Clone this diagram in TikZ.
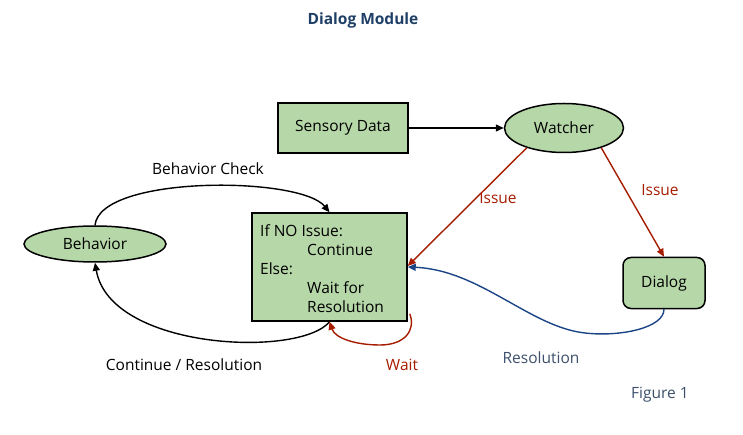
\documentclass[tikz,border=0pt]{standalone}
\usepackage{fontspec}
\setmainfont{Open Sans}
\usetikzlibrary{shapes.geometric,arrows.meta}
\definecolor{boxgreen}{HTML}{B6D7A8}
\definecolor{issuered}{HTML}{A61C00}
\definecolor{resblue}{HTML}{1C4587}
\definecolor{titleblue}{HTML}{1F3F66}
\definecolor{labelblue}{HTML}{3D4F6B}
\tikzset{
  every node/.style={font=\fontsize{15.5}{18}\selectfont},
  boxnode/.style={draw=black, line width=1.5pt, fill=boxgreen, inner sep=0pt},
  ellnode/.style={draw=black, line width=1.5pt, fill=boxgreen, ellipse, inner sep=0pt},
  conn/.style={line width=1.4pt, -{Triangle[length=8pt,width=7pt]}},
}
\begin{document}
\begin{tikzpicture}[x=1pt,y=-1pt]
\useasboundingbox (0,0) rectangle (743,435);
\node[font=\fontsize{15.5}{18}\selectfont\bfseries, text=titleblue] (title) at (363,20) {Dialog Module};
\node[boxnode, minimum width=130pt, minimum height=50pt] (sensory) at (343,128) {Sensory Data};
\node[ellnode, minimum width=119pt, minimum height=49pt] (watcher) at (564,128) {Watcher};
\node[ellnode, minimum width=142pt, minimum height=36pt] (behavior) at (95,244) {Behavior};
\node[boxnode, minimum width=155pt, minimum height=108pt] (main) at (329.5,267) {};
\node[anchor=north west, align=left, inner sep=0pt, font=\fontsize{15.5}{19}\selectfont] (maintext) at (260,224)
 {If NO Issue:\\\hspace*{47pt}Continue\\Else:\\\hspace*{47pt}Wait for\\\hspace*{47pt}Resolution};
\node[boxnode, rounded corners=8pt, minimum width=82pt, minimum height=51pt] (dialog) at (664,283) {Dialog};

\draw[conn] (sensory) -- (watcher);
\draw[conn, color=issuered] (watcher.-152) -- (main.east |- 0,266);
\draw[conn, color=issuered] (watcher.-28) -- (dialog.north);
\draw[conn, color=resblue] (dialog.south) .. controls (664,328) and (620,337) .. (585,333) .. controls (530,327) and (480,270) .. (main.east |- 0,267);
\draw[conn] (behavior.north) .. controls (100,175) and (300,176) .. (main.north);
\draw[conn] (main.south) .. controls (300,358) and (110,350) .. (behavior.south);
\draw[conn, color=issuered] (main.south east) ++(2,-8) .. controls (416,330) and (405,345) .. (380,345) .. controls (355,345) and (335,338) .. (main.south);

\node (lbc) at (208,169) {Behavior Check};
\node (lcr) at (184,365) {Continue / Resolution};
\node[text=issuered] (lwait) at (402,365) {Wait};
\node[text=issuered] (li1) at (498,198) {Issue};
\node[text=issuered] (li2) at (660,190) {Issue};
\node[text=labelblue] (lres) at (541,358) {Resolution};
\node[text=labelblue] (lfig) at (660,395) {Figure 1};
\end{tikzpicture}
\end{document}
